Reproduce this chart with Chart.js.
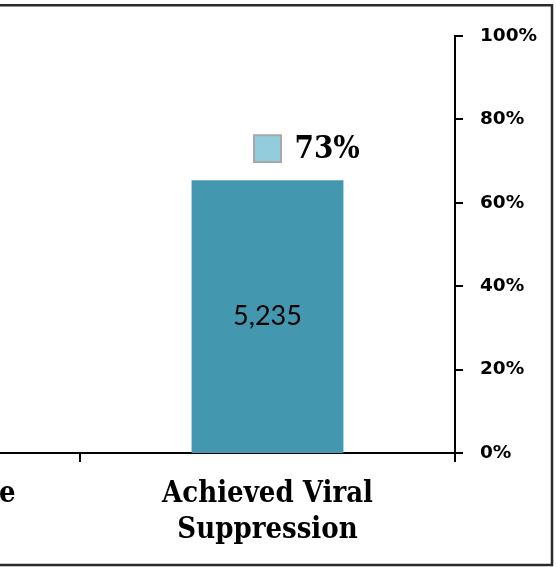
<!DOCTYPE html>
<html>
<head>
<meta charset="utf-8">
<script src="https://cdn.jsdelivr.net/npm/chart.js@4.4.1/dist/chart.umd.min.js"></script>
<style>
  html, body { margin: 0; padding: 0; background: #fff; overflow: hidden; width: 556px; height: 567px; }
  #wrap { position: absolute; left: -300px; top: 0; width: 856px; height: 567px; }
</style>
</head>
<body>
<div id="wrap"><canvas id="c" width="856" height="567" style="width:856px;height:567px"></canvas></div>
<script>
// ---- data ----
const categories = [['Retained in Care'], ['Achieved Viral', 'Suppression']];
const counts = [null, 5235];          // bar values (patients)
const percents = [null, 73];          // percentage markers
const countAxisMax = 8000;
const percentTicks = [0, 20, 40, 60, 80, 100];

const OFFSET_X = 300; // canvas is shifted left so only the right part shows

const serifBold = '"DejaVu Serif Condensed", "DejaVu Serif", serif';

const labelPlugin = {
  id: 'labels',
  afterDatasetsDraw(chart) {
    const ctx = chart.ctx;
    ctx.save();
    const barMeta = chart.getDatasetMeta(0);
    barMeta.data.forEach((bar, i) => {
      const v = counts[i];
      if (v == null) return;
      const cy = (bar.y + bar.base) / 2;
      ctx.font = '27px Lato, "Open Sans", sans-serif';
      ctx.fillStyle = '#000';
      ctx.textAlign = 'center';
      ctx.textBaseline = 'middle';
      ctx.fillText(v.toLocaleString('en-US'), bar.x, cy);
    });
    const ptMeta = chart.getDatasetMeta(1);
    ptMeta.data.forEach((pt, i) => {
      const v = percents[i];
      if (v == null) return;
      ctx.font = 'bold 31px ' + serifBold;
      ctx.fillStyle = '#000';
      ctx.textAlign = 'left';
      ctx.textBaseline = 'middle';
      ctx.fillText(v + '%', pt.x + 27, pt.y + 1);
    });
    ctx.restore();
  },
  afterDraw(chart) {
    const ctx = chart.ctx;
    ctx.save();
    ctx.strokeStyle = '#2b2b2b';
    ctx.lineWidth = 2.5;
    ctx.beginPath();
    ctx.moveTo(0, 5.2);
    ctx.lineTo(552 + OFFSET_X, 5.2);
    ctx.lineTo(552 + OFFSET_X, 565);
    ctx.lineTo(0, 565);
    ctx.stroke();
    ctx.restore();
  }
};

new Chart(document.getElementById('c'), {
  type: 'bar',
  data: {
    labels: categories,
    datasets: [
      {
        type: 'bar',
        label: 'Patients',
        data: counts,
        yAxisID: 'y',
        backgroundColor: '#4398AF',
        borderWidth: 0,
        categoryPercentage: 1,
        barPercentage: 0.405,
        order: 2
      },
      {
        type: 'line',
        label: 'Percent',
        data: percents,
        yAxisID: 'y1',
        showLine: false,
        pointStyle: 'rect',
        pointRadius: 19,
        pointHoverRadius: 19,
        pointBackgroundColor: '#93CDDD',
        pointBorderColor: '#A6A6A6',
        pointBorderWidth: 2,
        order: 1
      }
    ]
  },
  options: {
    responsive: false,
    animation: false,
    devicePixelRatio: 1,
    layout: { autoPadding: false, padding: { left: 5, top: 36, right: 0, bottom: 0 } },
    plugins: { legend: { display: false }, tooltip: { enabled: false } },
    scales: {
      x: {
        position: 'bottom',
        offset: true,
        grid: {
          offset: true,
          drawOnChartArea: false,
          drawTicks: true,
          tickLength: 9,
          color: '#000',
          lineWidth: 2
        },
        border: { display: true, color: '#000', width: 2 },
        ticks: {
          color: '#000',
          padding: 15,
          maxRotation: 0,
          autoSkip: false,
          font: { family: serifBold, weight: 'bold', size: 29, lineHeight: 1.22 }
        },
        afterFit(scale) {
          scale.height = 567 - 453;
          scale.paddingLeft = 0;
          scale.paddingRight = 0;
        }
      },
      y: {
        display: false,
        min: 0,
        max: countAxisMax
      },
      y1: {
        position: 'right',
        min: 0,
        max: 100,
        afterBuildTicks(scale) { scale.ticks = percentTicks.map(v => ({ value: v })); },
        grid: {
          drawOnChartArea: false,
          drawTicks: true,
          tickLength: 8,
          color: '#000',
          lineWidth: 2
        },
        border: { display: true, color: '#000', width: 2 },
        ticks: {
          color: '#000',
          padding: 17,
          font: { family: '"DejaVu Sans", sans-serif', weight: 'bold', size: 18.5 },
          callback: v => v + '%'
        },
        afterFit(scale) {
          scale.width = 101;
          scale.paddingTop = 0;
          scale.paddingBottom = 0;
        }
      }
    }
  },
  plugins: [labelPlugin]
});
</script>
</body>
</html>
